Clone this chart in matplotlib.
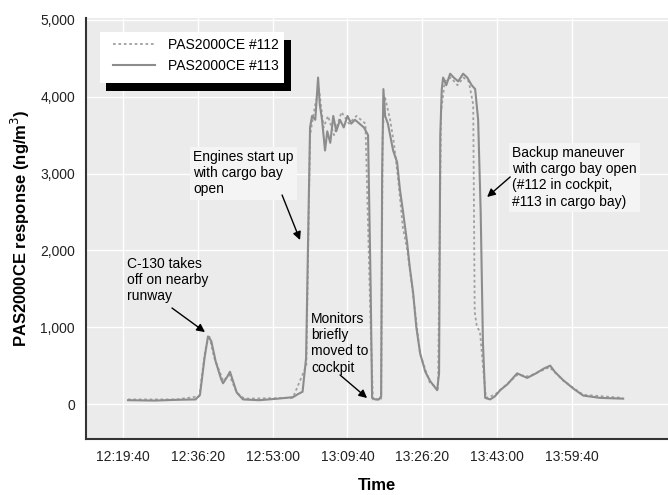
import numpy as np
import matplotlib.pyplot as plt
from matplotlib.patches import Rectangle
from matplotlib.ticker import FuncFormatter

plt.rcParams["font.family"] = ["Liberation Sans Narrow", "Liberation Sans", "DejaVu Sans"]

# time in seconds of the day, response in ng/m3
t_113 = [44447, 44800, 45100, 45350, 45409, 45470, 45516, 45560, 45620, 45690,
         45717, 45770, 45810, 45850, 45900, 45984, 46200, 46450, 46653, 46720,
         46780, 46827, 46860, 46880, 46907, 46950, 46987, 47010, 47040, 47080,
         47110, 47150, 47190, 47230, 47280, 47330, 47380, 47430, 47480, 47540,
         47600, 47655, 47690, 47709, 47750, 47800, 47830, 47843, 47860, 47883,
         47920, 47950, 47990, 48043, 48080, 48123, 48150, 48177, 48210, 48257,
         48300, 48351, 48420, 48484, 48578, 48604, 48620, 48640, 48658, 48700,
         48752, 48800, 48860, 48925, 48980, 49040, 49086, 49126, 49160, 49190,
         49220, 49286, 49350, 49420, 49520, 49647, 49781, 49900, 50000, 50089,
         50150, 50263, 50400, 50530, 50757, 51064]
y_113 = [50, 45, 55, 60, 120, 600, 880, 820, 550, 330,
         270, 350, 420, 300, 150, 60, 50, 70, 90, 130,
         160, 600, 2500, 3600, 3750, 3700, 4250, 3900, 3700, 3300,
         3550, 3400, 3750, 3550, 3700, 3600, 3750, 3650, 3700, 3650,
         3600, 3500, 1500, 80, 60, 60, 100, 3000, 4100, 3750,
         3650, 3500, 3300, 3150, 2800, 2500, 2300, 2100, 1800, 1450,
         1000, 660, 420, 300, 180, 400, 3500, 4100, 4250, 4150,
         4300, 4250, 4200, 4300, 4250, 4150, 4100, 3700, 2500, 800,
         80, 60, 100, 180, 260, 400, 340, 400, 460, 500,
         420, 310, 200, 110, 80, 70]

t_112 = [44447, 45100, 45400, 45480, 45530, 45600, 45720, 45800, 45900, 46000,
         46650, 46830, 46880, 46950, 47000, 47060, 47120, 47200, 47300, 47400,
         47500, 47620, 47690, 47720, 47830, 47850, 47880, 47950, 48000, 48060,
         48120, 48180, 48260, 48350, 48480, 48590, 48630, 48680, 48760, 48850,
         48930, 49000, 49060, 49080, 49110, 49150, 49190, 49230, 49350, 49650,
         49800, 50080, 50270, 50530, 51060]
y_112 = [60, 60, 100, 700, 900, 600, 300, 380, 150, 70,
         80, 500, 3500, 3900, 4100, 3600, 3750, 3500, 3800, 3650,
         3750, 3650, 1000, 60, 60, 3500, 4000, 3700, 3400, 2900,
         2300, 2000, 1400, 650, 280, 200, 3800, 4200, 4250, 4150,
         4250, 4200, 3900, 1200, 1000, 950, 500, 80, 120, 380,
         360, 480, 300, 120, 80]

x_ticks = [44380, 45380, 46380, 47380, 48380, 49380, 50380]
y_ticks = [0, 1000, 2000, 3000, 4000, 5000]


def hms(s, pos=None):
    s = int(round(s))
    return f"{s // 3600}:{(s % 3600) // 60:02d}:{s % 60:02d}"


fig = plt.figure(figsize=(6.68, 4.95), dpi=100)
ax = fig.add_axes([86 / 668, 1 - 439 / 495, 582 / 668, 421 / 495])
ax.set_facecolor("#ebebeb")
ax.set_xlim(43886, 51663)
ax.set_ylim(-455, 5025)
ax.set_xticks(x_ticks)
ax.set_yticks(y_ticks)
ax.xaxis.set_major_formatter(FuncFormatter(hms))
ax.yaxis.set_major_formatter(FuncFormatter(lambda v, p: f"{int(v):,}"))
ax.tick_params(length=0, labelsize=10, colors="#222222", pad=8)
ax.grid(color="white", linewidth=1)
ax.set_axisbelow(True)
for side in ["top", "right"]:
    ax.spines[side].set_visible(False)
for side in ["left", "bottom"]:
    ax.spines[side].set_color("#333333")
    ax.spines[side].set_linewidth(1.5)

ax.plot(t_112, y_112, color="#a0a0a0", linewidth=1.3, linestyle=(0, (1.5, 1.5)),
        label="PAS2000CE #112")
ax.plot(t_113, y_113, color="#8c8c8c", linewidth=1.5, label="PAS2000CE #113")

ax.set_xlabel("Time", fontsize=12, fontweight="bold", labelpad=10)
ax.set_ylabel("PAS2000CE response (ng/m$^3$)", fontsize=12, fontweight="bold", labelpad=6)


# legend box with a black drop shadow (pixel positions -> axes fraction)
def px(x, y):
    return ((x - 86) / 582, (439 - y) / 421)


x0, y0 = px(106, 91)
x1, y1 = px(291, 40)
ax.add_patch(Rectangle((x0, y0), x1 - x0, y1 - y0, transform=ax.transAxes,
                       facecolor="black", zorder=5))
x0, y0 = px(100, 83)
x1, y1 = px(284, 32)
ax.add_patch(Rectangle((x0, y0), x1 - x0, y1 - y0, transform=ax.transAxes,
                       facecolor="white", zorder=6))
leg = ax.legend(loc="upper left", bbox_to_anchor=px(113, 38), frameon=False,
                fontsize=10, handlelength=3.0, handletextpad=0.95, labelspacing=0.5,
                borderaxespad=0, borderpad=0)
leg.set_zorder(7)

arrow = dict(arrowstyle="-|>", color="black", linewidth=1, mutation_scale=12,
             shrinkA=0, shrinkB=0)
box = dict(boxstyle="square,pad=0.25", facecolor="#f4f4f4", edgecolor="none")
txt = dict(fontsize=10, va="top", ha="left", linespacing=1.2)

ax.text(44433, 1914, "C-130 takes\noff on nearby\nrunway", **txt)
ax.annotate("", xy=(45476, 937), xytext=(45035, 1250), arrowprops=arrow)

ax.text(45316, 3307, "Engines start up\nwith cargo bay\nopen", bbox=box, **txt)
ax.annotate("", xy=(46746, 2135), xytext=(46506, 2721), arrowprops=arrow)

ax.text(46893, 1198, "Monitors\nbriefly\nmoved to\ncockpit", **txt)
ax.annotate("", xy=(47642, 78), xytext=(47281, 378), arrowprops=arrow)

ax.text(49581, 3359, "Backup maneuver\nwith cargo bay open\n(#112 in cockpit,\n#113 in cargo bay)",
        bbox=box, **txt)
ax.annotate("", xy=(49246, 2695), xytext=(49554, 2956), arrowprops=arrow)

fig.savefig("out.png", dpi=100)
